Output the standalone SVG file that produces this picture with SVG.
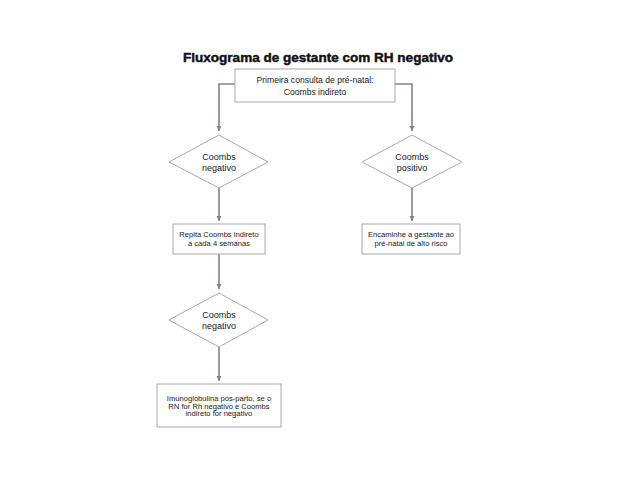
<svg xmlns="http://www.w3.org/2000/svg" width="638" height="479" viewBox="0 0 638 479">
<style>
.box{fill:#fff;stroke:#a8a8ae;stroke-width:1}
.dia{fill:#fff;stroke:#a8a8ae;stroke-width:1}
.con{fill:none;stroke:#837d9a;stroke-width:1.6}
.t{font-family:"Liberation Sans",Arial,sans-serif;fill:#1a1a1a;text-anchor:middle}
.title{font-family:"Liberation Sans",Arial,sans-serif;font-weight:bold;font-size:13.5px;fill:#111;stroke:#111;stroke-width:0.45;text-anchor:middle}
</style>
<defs>
<marker id="ah" viewBox="0 0 10 10" refX="10" refY="5" markerWidth="3.4" markerHeight="3.4" orient="auto" markerUnits="strokeWidth">
<path d="M0,0 L10,5 L0,10 z" fill="#837d9a"/>
</marker>
</defs>
<rect width="638" height="479" fill="#fff"/>
<text class="title" x="318" y="62" textLength="270" lengthAdjust="spacingAndGlyphs">Fluxograma de gestante com RH negativo</text>
<g id="connectors">
<path class="con" d="M235,84 H219 V131" marker-end="url(#ah)"/>
<path class="con" d="M395,84 H412 V131" marker-end="url(#ah)"/>
<path class="con" d="M219,188 V221" marker-end="url(#ah)"/>
<path class="con" d="M412,188 V221" marker-end="url(#ah)"/>
<path class="con" d="M219,254 V289" marker-end="url(#ah)"/>
<path class="con" d="M219,347 V381" marker-end="url(#ah)"/>
</g>
<g id="start">
<rect class="box" x="235" y="69" width="160" height="33"/>
<text class="t" font-size="8.6" x="315" y="83">Primeira consulta de pré-natal:</text>
<text class="t" font-size="8.6" x="315" y="95">Coombs indireto</text>
</g>
<g id="dec1">
<polygon class="dia" points="219,135 268,162 219,188 169,162"/>
<text class="t" font-size="9" x="219" y="160">Coombs</text>
<text class="t" font-size="9" x="219" y="171">negativo</text>
</g>
<g id="dec2">
<polygon class="dia" points="412,135 462,162 412,188 362,162"/>
<text class="t" font-size="9" x="412" y="160">Coombs</text>
<text class="t" font-size="9" x="412" y="171">positivo</text>
</g>
<g id="repeat">
<rect class="box" x="173" y="224" width="92" height="30"/>
<text class="t" font-size="7.6" x="219" y="237">Repita Coombs indireto</text>
<text class="t" font-size="7.6" x="219" y="246">a cada 4 semanas</text>
</g>
<g id="refer">
<rect class="box" x="362" y="224" width="98" height="30"/>
<text class="t" font-size="7.6" x="411" y="237">Encaminhe a gestante ao</text>
<text class="t" font-size="7.6" x="411" y="246">pré-natal de alto risco</text>
</g>
<g id="dec3">
<polygon class="dia" points="219,293 268,320 219,347 169,320"/>
<text class="t" font-size="9" x="219" y="318">Coombs</text>
<text class="t" font-size="9" x="219" y="329">negativo</text>
</g>
<g id="immuno">
<rect class="box" x="157" y="384" width="124" height="43"/>
<text class="t" font-size="7.6" x="219" y="401">Imunoglobulina pós-parto, se o</text>
<text class="t" font-size="7.6" x="219" y="408.5">RN for Rh negativo e Coombs</text>
<text class="t" font-size="7.6" x="219" y="416">indireto for negativo</text>
</g>
</svg>
